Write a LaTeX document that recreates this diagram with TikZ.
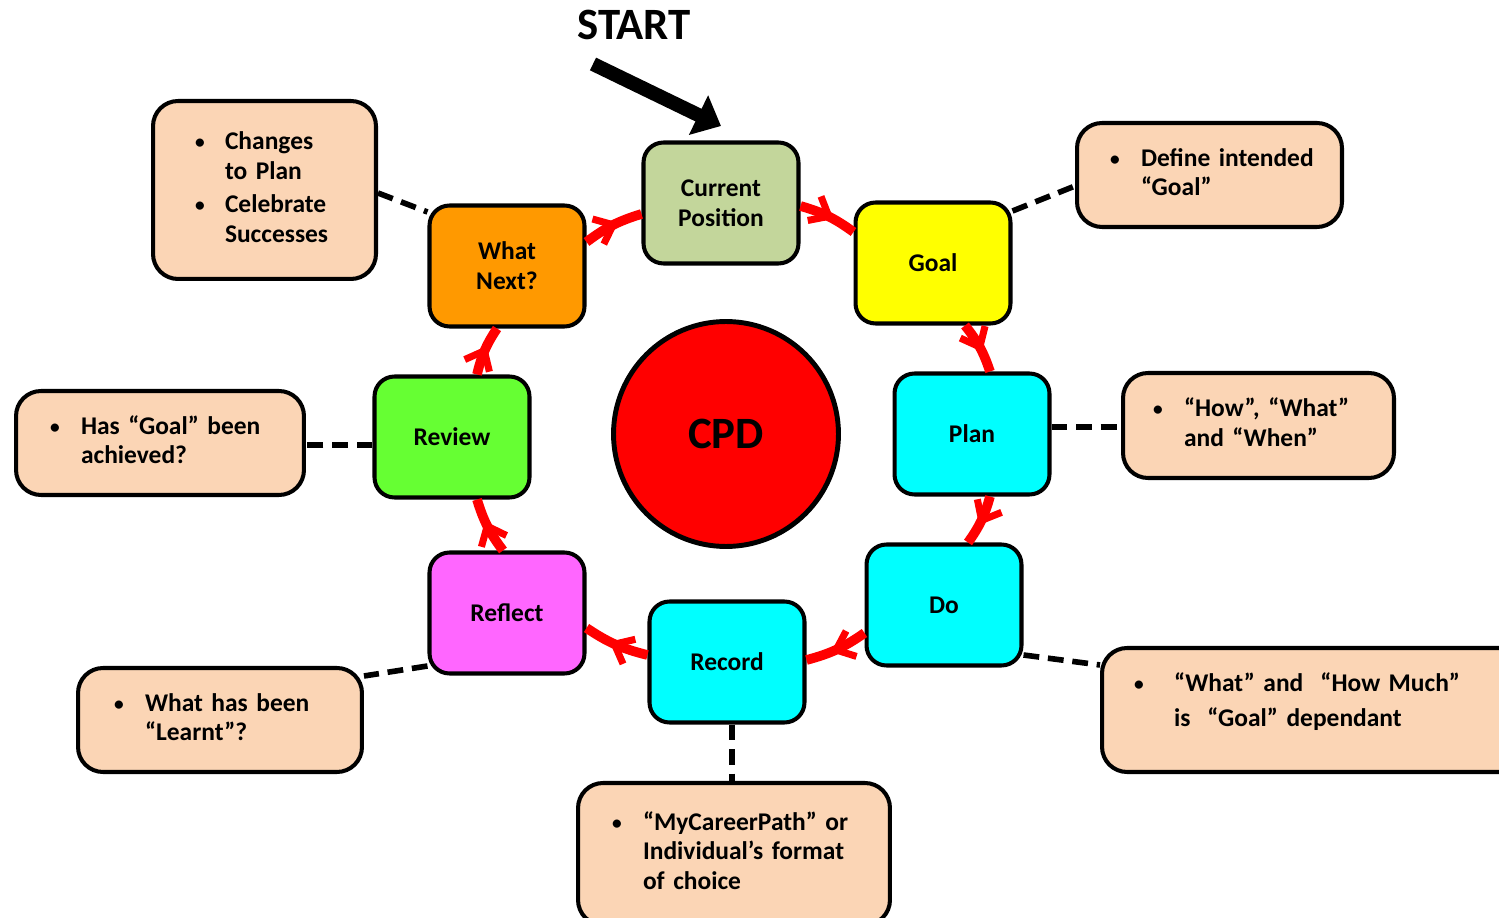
\documentclass[tikz,border=0pt]{standalone}
\usepackage{fontspec}
\setmainfont{Carlito}
\usetikzlibrary{arrows.meta,decorations.markings,calc}
\definecolor{peach}{HTML}{FBD5B5}
\definecolor{curgreen}{HTML}{C3D69B}
\definecolor{orng}{HTML}{FF9900}
\definecolor{pinkm}{HTML}{FF66FF}
\definecolor{lgreen}{HTML}{66FF33}
\definecolor{aqua}{HTML}{00FFFF}
\definecolor{yel}{HTML}{FFFF00}
\newcommand\bul{\raisebox{0.5pt}{\fontsize{11}{13}\selectfont•}}
\begin{document}
\begin{tikzpicture}[x=0.02cm,y=-0.02cm,
  font=\fontsize{14.5}{17}\selectfont\bfseries,
  stage/.style={draw=black, line width=2.3pt, rounded corners=0.4cm, minimum width=3.1cm, minimum height=2.42cm, align=center, inner sep=2pt},
  note/.style n args={3}{draw=black, fill=peach, line width=2.3pt, rounded corners=0.5cm, align=left, inner xsep=#1, text width=#2, minimum height=#3},
  flow/.style={color=red, line width=5.5pt, postaction={decorate}, decoration={markings, mark=at position 0.6 with {\arrow[red]{Straight Barb[length=0.33cm,width=0.55cm,line width=4pt]}}}},
  link/.style={draw=black, line width=3.2pt, dash pattern=on 9pt off 5pt}
]
\useasboundingbox (0,0) rectangle (1499,918);

% stages
\node[stage, fill=curgreen] (cur) at (721,203) {Current\\Position};
\node[stage, fill=yel] (goal) at (933,263) {Goal};
\node[stage, fill=aqua] (plan) at (972,434) {Plan};
\node[stage, fill=aqua] (do) at (944,605) {Do};
\node[stage, fill=aqua] (rec) at (727,662) {Record};
\node[stage, fill=pinkm] (refl) at (507,613) {Reflect};
\node[stage, fill=lgreen] (rev) at (452,437) {Review};
\node[stage, fill=orng] (wn) at (507,266) {What\\Next?};

\node[circle, draw=black, fill=red, line width=2.8pt, minimum size=4.5cm, font=\fontsize{25.5}{30}\selectfont\bfseries] (cpd) at (726,434) {CPD};

% start
\node[font=\fontsize{25.5}{30}\selectfont\bfseries] (start) at (634,25) {START};
\coordinate (s0) at (593,64);
\coordinate (s1) at (721,126);
\draw[line width=8pt, -{Triangle[length=0.5cm,width=0.85cm]}] (s0) -- (s1);

% notes
\node[note={0.84cm}{2.78cm}{3.56cm}] (chg) at (264.5,190) {\begin{tabular}{@{}p{0.6cm}@{}l@{}}\bul & Changes\\ & to Plan\\[2pt] \bul & Celebrate\\ & Successes\end{tabular}};
\node[note={0.66cm}{3.98cm}{2.08cm}] (def) at (1209.5,175) {\begin{tabular}{@{}p{0.62cm}@{}l@{}}\bul & Define intended\\ & “Goal”\end{tabular}};
\node[note={0.60cm}{4.22cm}{2.10cm}] (how) at (1258.5,425.5) {\begin{tabular}{@{}p{0.62cm}@{}l@{}}\bul & “How”, “What”\\ & and “When”\end{tabular}};
\node[note={0.64cm}{7.28cm}{2.48cm}] (dob) at (1316,710) {\begin{tabular}{@{}p{0.8cm}@{}l@{}}\bul & “What” and\ \ “How Much”\\[3pt] & is\ \ “Goal” dependant\rule[-0.45cm]{0pt}{0pt}\end{tabular}};
\node[note={0.68cm}{4.40cm}{2.08cm}] (has) at (160,443) {\begin{tabular}{@{}p{0.62cm}@{}l@{}}\bul & Has “Goal” been\\ & achieved?\end{tabular}};
\node[note={0.72cm}{4.24cm}{2.08cm}] (lrn) at (220,720) {\begin{tabular}{@{}p{0.62cm}@{}l@{}}\bul & What has been\\ & “Learnt”?\end{tabular}};
\node[note={0.68cm}{4.88cm}{2.84cm}] (myc) at (734,854) {\begin{tabular}{@{}p{0.62cm}@{}l@{}}\bul & “MyCareerPath” or\\ & Individual’s format\\ & of choice\end{tabular}};

% dashed links
\draw[link] (chg.east |- 0,193) -- (wn.west |- 0,212);
\draw[link] (goal.east |- 0,211) -- (def.west |- 0,186);
\draw[link] (plan.east |- 0,427) -- (how.west |- 0,427);
\draw[link] (do.east |- 0,655) -- (dob.west |- 0,665);
\draw[link] (rev.west |- 0,445) -- (has.east |- 0,445);
\draw[link] (refl.west |- 0,666) -- (lrn.east |- 0,676);
\draw[link] (732,0 |- rec.south) -- (732,0 |- myc.north);

% red flow
\draw[flow] (cur.east |- 0,206) to[bend left=10] (goal.west |- 0,232);
\draw[flow] (965,0 |- goal.south) to[bend left=10] (990,0 |- plan.north);
\draw[flow] (990,0 |- plan.south) to[bend left=10] (968,0 |- do.north);
\draw[flow] (do.west |- 0,633) to[bend left=10] (rec.east |- 0,660);
\draw[flow] (rec.west |- 0,655) to[bend left=10] (refl.east |- 0,628);
\draw[flow] (503,0 |- refl.north) to[bend left=10] (477,0 |- rev.south);
\draw[flow] (477,0 |- rev.north) to[bend left=10] (497,0 |- wn.south);
\draw[flow] (wn.east |- 0,242) to[bend left=10] (cur.west |- 0,214);
\end{tikzpicture}
\end{document}
